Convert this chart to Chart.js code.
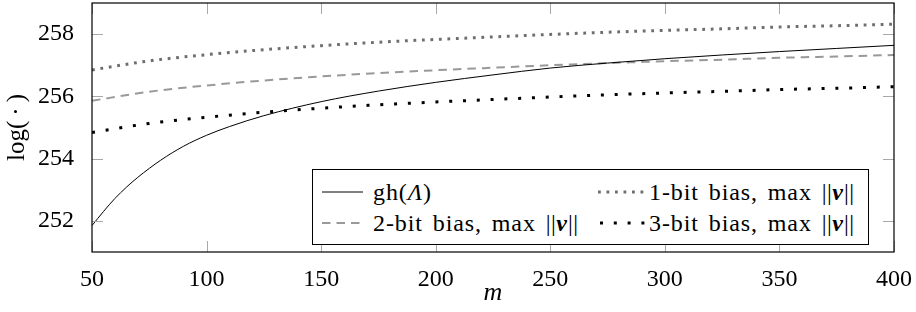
<!DOCTYPE html>
<html>
<head>
<meta charset="utf-8">
<script src="https://cdn.jsdelivr.net/npm/chart.js@4.4.1/dist/chart.umd.min.js"></script>
<style>
  html, body { margin: 0; padding: 0; background: #fff; }
  #wrap { position: relative; width: 916px; height: 312px; }
  #legend {
    position: absolute; left: 312px; top: 169px; width: 557px; height: 76px;
    border: 1px solid #000; background: #fff; box-sizing: border-box;
    font-family: "Liberation Serif", serif; font-size: 24px; color: #000;
  }
  #legend .item { position: absolute; white-space: nowrap; line-height: 28px; letter-spacing: 0.9px; word-spacing: 3px; }
  #legend .bar { letter-spacing: 0.5px; }
  #legend svg { position: absolute; }
</style>
</head>
<body>
<div id="wrap">
  <canvas id="grafico" width="916" height="312"></canvas>
  <div id="legend">
    <svg style="left:9px;top:12px" width="42" height="20"><line x1="0" y1="10" x2="41" y2="10" stroke="#000" stroke-width="1"/></svg>
    <div class="item" style="left:60px;top:8px">gh(<i>Λ</i>)</div>
    <svg style="left:9px;top:43px" width="42" height="20"><line x1="0" y1="10" x2="41" y2="10" stroke="#999" stroke-width="2" stroke-dasharray="8.5 6"/></svg>
    <div class="item" style="left:60px;top:39px">2-bit bias, max <span class="bar">||</span><b><i>v</i></b><span class="bar">||</span></div>
    <svg style="left:285px;top:12px" width="52" height="20"><line x1="0" y1="10" x2="50" y2="10" stroke="#6e6e6e" stroke-width="3" stroke-dasharray="2.8 5.7"/></svg>
    <div class="item" style="left:336px;top:8px">1-bit bias, max <span class="bar">||</span><b><i>v</i></b><span class="bar">||</span></div>
    <svg style="left:285px;top:43px" width="52" height="20"><line x1="2" y1="10" x2="50" y2="10" stroke="#000" stroke-width="3" stroke-dasharray="3 10.8"/></svg>
    <div class="item" style="left:336px;top:39px">3-bit bias, max <span class="bar">||</span><b><i>v</i></b><span class="bar">||</span></div>
  </div>
</div>
<script>
// valores
const mGh = [50, 55, 60, 65, 70, 80, 90, 100, 110, 125, 150, 175, 200, 225, 250, 275, 300, 325, 350, 375, 400];
const gh = [251.85, 252.30, 252.72, 253.08, 253.40, 253.95, 254.40, 254.75, 255.03, 255.38, 255.83, 256.17,
            256.45, 256.69, 256.91, 257.07, 257.21, 257.33, 257.44, 257.54, 257.64];

const mBias = [50, 75, 100, 125, 150, 175, 200, 225, 250, 275, 300, 325, 350, 375, 400];
const bias1 = [256.85, 257.14, 257.34, 257.50, 257.63, 257.74, 257.83, 257.91, 257.99, 258.06, 258.12, 258.17, 258.23, 258.27, 258.32];
const bias2 = [255.86, 256.15, 256.35, 256.51, 256.64, 256.75, 256.84, 256.92, 257.00, 257.07, 257.13, 257.18, 257.24, 257.28, 257.33];
const bias3 = [254.84, 255.13, 255.33, 255.49, 255.62, 255.73, 255.82, 255.90, 255.98, 256.05, 256.11, 256.16, 256.22, 256.26, 256.31];

const xTicks = [50, 100, 150, 200, 250, 300, 350, 400];
const yTicks = [252, 254, 256, 258];

const pontos = (xs, ys) => xs.map((x, i) => ({ x: x, y: ys[i] }));
const fonte = { family: 'Liberation Serif', size: 24 };

// moldura e marcas internas no estilo pgfplots
const moldura = {
    id: 'moldura',
    afterDatasetsDraw(chart) {
        const { ctx, chartArea: a, scales } = chart;
        ctx.save();
        ctx.strokeStyle = '#a8a8a8';
        ctx.lineWidth = 1;
        ctx.beginPath();
        xTicks.forEach(v => {
            const px = Math.round(scales.x.getPixelForValue(v)) + 0.5;
            ctx.moveTo(px, a.top); ctx.lineTo(px, a.top + 11);
            ctx.moveTo(px, a.bottom); ctx.lineTo(px, a.bottom - 11);
        });
        yTicks.forEach(v => {
            const py = Math.round(scales.y.getPixelForValue(v)) + 0.5;
            ctx.moveTo(a.left, py); ctx.lineTo(a.left + 11, py);
            ctx.moveTo(a.right, py); ctx.lineTo(a.right - 11, py);
        });
        ctx.stroke();
        ctx.strokeStyle = '#000';
        ctx.lineWidth = 1.2;
        ctx.strokeRect(a.left, a.top, a.right - a.left, a.bottom - a.top);
        ctx.restore();
    }
};

const semPadding = s => { s.paddingTop = 0; s.paddingBottom = 0; s.paddingLeft = 0; s.paddingRight = 0; };

const ctx = document.getElementById('grafico').getContext('2d');
const grafico = new Chart(ctx, {
    type: 'line',
    data: {
        datasets: [
            { label: 'gh(Λ)', data: pontos(mGh, gh), borderColor: '#000', borderWidth: 1,
              cubicInterpolationMode: 'monotone' },
            { label: '1-bit bias, max ‖v‖', data: pontos(mBias, bias1), borderColor: '#6e6e6e', borderWidth: 3,
              borderDash: [2.8, 5.7], cubicInterpolationMode: 'monotone' },
            { label: '2-bit bias, max ‖v‖', data: pontos(mBias, bias2), borderColor: '#999', borderWidth: 2,
              borderDash: [8.5, 6], cubicInterpolationMode: 'monotone' },
            { label: '3-bit bias, max ‖v‖', data: pontos(mBias, bias3), borderColor: '#000', borderWidth: 3,
              borderDash: [3, 10.8], cubicInterpolationMode: 'monotone' }
        ]
    },
    options: {
        responsive: false,
        animation: false,
        clip: false,
        layout: { padding: { top: 3, right: 22, left: 0, bottom: 0 } },
        elements: { point: { radius: 0 }, line: { borderCapStyle: 'butt' } },
        plugins: { legend: { display: false }, tooltip: { enabled: false } },
        scales: {
            x: {
                type: 'linear', min: 50, max: 400,
                afterBuildTicks: s => { s.ticks = xTicks.map(v => ({ value: v })); },
                afterFit: s => { s.height = 60; semPadding(s); },
                grid: { display: false }, border: { display: false },
                ticks: { color: '#000', font: fonte, padding: 5, maxRotation: 0 },
                title: { display: true, text: 'm', color: '#000', padding: { top: 0, bottom: 3 },
                         font: { family: 'Liberation Serif', size: 26, style: 'italic' } }
            },
            y: {
                min: 251, max: 259,
                afterBuildTicks: s => { s.ticks = yTicks.map(v => ({ value: v })); },
                afterFit: s => { s.width = 92; semPadding(s); },
                grid: { display: false }, border: { display: false },
                ticks: { color: '#000', font: fonte, padding: 10 },
                title: { display: true, text: 'log(\u2009·\u2009)', color: '#000', padding: { top: 2, bottom: 0 },
                         font: { family: 'Liberation Serif', size: 25 } }
            }
        }
    },
    plugins: [moldura]
});
</script>
</body>
</html>
